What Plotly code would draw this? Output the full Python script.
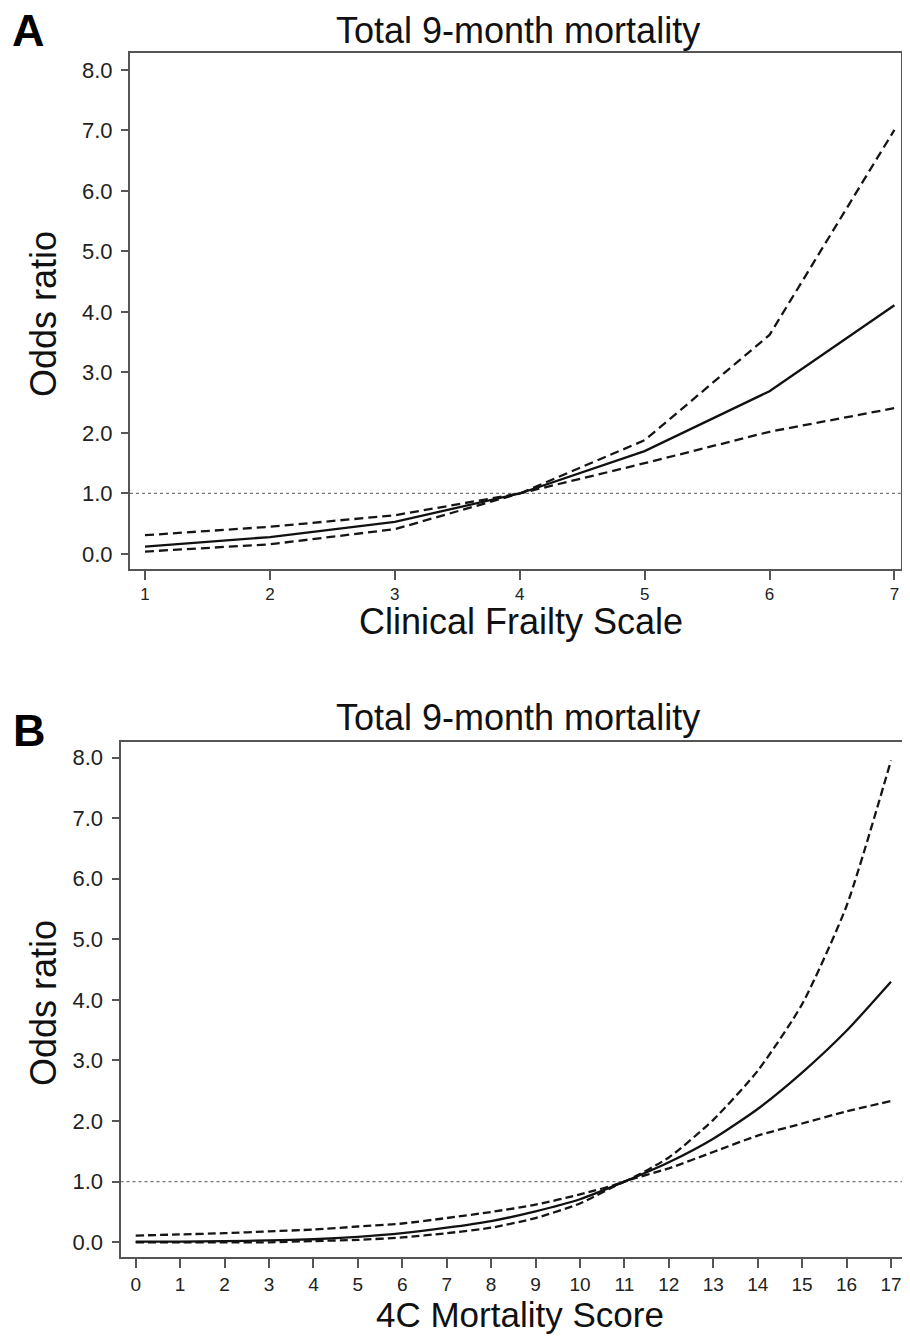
import plotly.graph_objects as go

# ---------------- Data ----------------
# Panel A: Clinical Frailty Scale
cfs_x = [1, 2, 3, 4, 5, 6, 7]
cfs_or = [0.12, 0.28, 0.53, 1.00, 1.70, 2.69, 4.11]
cfs_upper = [0.31, 0.45, 0.64, 1.00, 1.88, 3.62, 7.01]
cfs_lower = [0.04, 0.16, 0.41, 1.00, 1.50, 2.02, 2.41]

# Panel B: 4C Mortality Score
c4_x = list(range(0, 18))
c4_or = [0.01, 0.01, 0.02, 0.03, 0.05, 0.09, 0.15, 0.24, 0.35, 0.51, 0.71,
         1.00, 1.32, 1.71, 2.20, 2.80, 3.49, 4.30]
c4_upper = [0.11, 0.13, 0.15, 0.18, 0.21, 0.26, 0.31, 0.40, 0.50, 0.62, 0.79,
            1.00, 1.40, 2.02, 2.83, 3.93, 5.55, 7.95]
c4_lower = [0.00, 0.00, 0.00, 0.00, 0.02, 0.04, 0.08, 0.15, 0.24, 0.40, 0.64,
            1.00, 1.22, 1.49, 1.76, 1.96, 2.16, 2.33]

y_ticks = [0, 1, 2, 3, 4, 5, 6, 7, 8]
ref_value = 1.0

title_text = "Total 9-month mortality"
ytitle = "Odds ratio"
xtitle_a = "Clinical Frailty Scale"
xtitle_b = "4C Mortality Score"

# ---------------- Figure ----------------
# The page has a default 8px body margin, so the figure is drawn 16px smaller
# (no scrolling) and reference pixel positions are shifted by 8px.
OFF = 8
W, H = 910 - 2 * OFF, 1342 - 2 * OFF
FONT = "Liberation Sans, Arial, sans-serif"
AX = "#555555"
TXT = "#222222"


def px(x):
    return min(max((x - OFF) / W, 0.0), 1.0)


def py(y):
    return min(max(1 - (y - OFF) / H, 0.0), 1.0)


fig = go.Figure()

# Panel A traces
for ys in (cfs_upper, cfs_lower):
    fig.add_trace(go.Scatter(x=cfs_x, y=ys, mode="lines",
                             line=dict(color="#151515", width=2.3, dash="9px,5px"),
                             xaxis="x", yaxis="y", showlegend=False))
fig.add_trace(go.Scatter(x=cfs_x, y=cfs_or, mode="lines",
                         line=dict(color="#111111", width=2.3),
                         xaxis="x", yaxis="y", showlegend=False))

# Panel B traces
for ys in (c4_upper, c4_lower):
    fig.add_trace(go.Scatter(x=c4_x, y=ys, mode="lines", line_shape="spline",
                             line=dict(color="#151515", width=2.3, dash="8px,4px", smoothing=0.6),
                             xaxis="x2", yaxis="y2", showlegend=False))
fig.add_trace(go.Scatter(x=c4_x, y=c4_or, mode="lines", line_shape="spline",
                         line=dict(color="#111111", width=2.3, smoothing=0.6),
                         xaxis="x2", yaxis="y2", showlegend=False))

# Reference lines at OR = 1
for xr, yr in (("x domain", "y"), ("x2 domain", "y2")):
    fig.add_shape(type="line", xref=xr, yref=yr, x0=0, x1=1, y0=ref_value, y1=ref_value,
                  line=dict(color="#777777", width=1.2, dash="dot"), layer="below")

axis_common = dict(showgrid=False, zeroline=False, showline=True, linecolor=AX,
                   linewidth=2, ticks="outside", tickcolor=AX, tickwidth=1.5)

fig.update_layout(
    width=W, height=H,
    margin=dict(l=0, r=0, t=0, b=0),
    paper_bgcolor="white", plot_bgcolor="white",
    font=dict(family=FONT, color=TXT),
    xaxis=dict(domain=[px(130), 0.9985], range=[0.88, 7.05], tickvals=cfs_x,
               ticklen=9, mirror=True, tickfont=dict(size=17, color=TXT),
               ticklabeloverflow="allow", anchor="y", **axis_common),
    yaxis=dict(domain=[py(568.5), py(53)], range=[-0.24, 8.28], tickvals=y_ticks,
               tickformat=".1f", ticklen=7, mirror=True, ticklabelstandoff=4,
               tickfont=dict(size=22, color=TXT), anchor="x", **axis_common),
    xaxis2=dict(domain=[px(120.5), 1.0], range=[-0.342, 17.248], tickvals=c4_x,
                ticklen=9, mirror=True, tickfont=dict(size=19, color=TXT),
                ticklabeloverflow="allow", anchor="y2", **axis_common),
    yaxis2=dict(domain=[py(1257), py(742)], range=[-0.243, 8.256], tickvals=y_ticks,
                tickformat=".1f", ticklen=7, mirror=False, ticklabelstandoff=4,
                tickfont=dict(size=22, color=TXT), anchor="x2", **axis_common),
)

ann = []
# Panel letters
ann.append(dict(text="<b>A</b>", x=px(28), y=py(30), font=dict(size=45, color="black")))
ann.append(dict(text="<b>B</b>", x=px(29), y=py(731), font=dict(size=45, color="black")))
# Titles
ann.append(dict(text=title_text, x=px(518), y=py(30), font=dict(size=36, color="#111")))
ann.append(dict(text=title_text, x=px(518), y=py(717), font=dict(size=36, color="#111")))
# Y titles
ann.append(dict(text=ytitle, x=px(43), y=py(314), textangle=-90, font=dict(size=36, color="#111")))
ann.append(dict(text=ytitle, x=px(43), y=py(1003), textangle=-90, font=dict(size=36, color="#111")))
# X titles
ann.append(dict(text=xtitle_a, x=px(521), y=py(621), font=dict(size=36, color="#111")))
ann.append(dict(text=xtitle_b, x=px(520), y=py(1314), font=dict(size=35, color="#111")))

for a in ann:
    a.update(xref="paper", yref="paper", showarrow=False, xanchor="center", yanchor="middle")
fig.update_layout(annotations=ann)

fig.write_html("out.html")
